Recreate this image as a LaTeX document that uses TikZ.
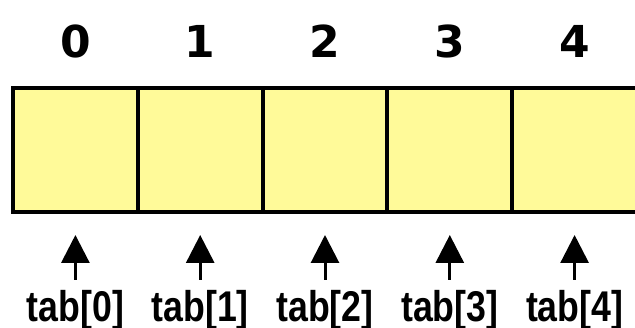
\documentclass[tikz,border=0pt]{standalone}
\usepackage{fontspec}
\usetikzlibrary{arrows.meta}
\newfontfamily\numfont{DejaVu Sans}
\newfontfamily\tabfont[FakeStretch=0.83]{Liberation Sans}

\begin{document}
\begin{tikzpicture}[x=1pt,y=1pt]
\tikzstyle{cell}=[draw=black, fill=yellow!40!white, line width=4pt, inner sep=0pt, minimum width=124.8pt, minimum height=124pt]
\tikzstyle{idx}=[inner sep=0pt, font=\numfont\bfseries\fontsize{44}{44}\selectfont]
\tikzstyle{lbl}=[inner sep=0pt, anchor=base, font=\tabfont\bfseries\fontsize{43}{43}\selectfont]
\tikzstyle{ptr}=[-{Triangle[width=28pt,length=28pt]}, line width=3pt, shorten <=11pt, shorten >=21pt]
\useasboundingbox (0,0) rectangle (635,-328);
\clip (0,0) rectangle (635,-328);
% cells
\node [cell] (c0) at (75.4,-150) {};
\node [cell] (c1) at (200.2,-150) {};
\node [cell] (c2) at (325,-150) {};
\node [cell] (c3) at (449.8,-150) {};
\node [cell] (c4) at (574.6,-150) {};
% indices
\node [idx] (n0) at (76,-41) {0};
\node [idx] (n1) at (200.2,-41) {1};
\node [idx] (n2) at (325,-41) {2};
\node [idx] (n3) at (449.8,-41) {3};
\node [idx] (n4) at (574.6,-41) {4};
% names
\node [lbl] (l0) at (75.4,-322) {tab[0]};
\node [lbl] (l1) at (200.2,-322) {tab[1]};
\node [lbl] (l2) at (325,-322) {tab[2]};
\node [lbl] (l3) at (449.8,-322) {tab[3]};
\node [lbl] (l4) at (574.6,-322) {tab[4]};
% pointers
\draw [ptr] (l0.north) -- (c0.south);
\draw [ptr] (l1.north) -- (c1.south);
\draw [ptr] (l2.north) -- (c2.south);
\draw [ptr] (l3.north) -- (c3.south);
\draw [ptr] (l4.north) -- (c4.south);
\end{tikzpicture}
\end{document}
